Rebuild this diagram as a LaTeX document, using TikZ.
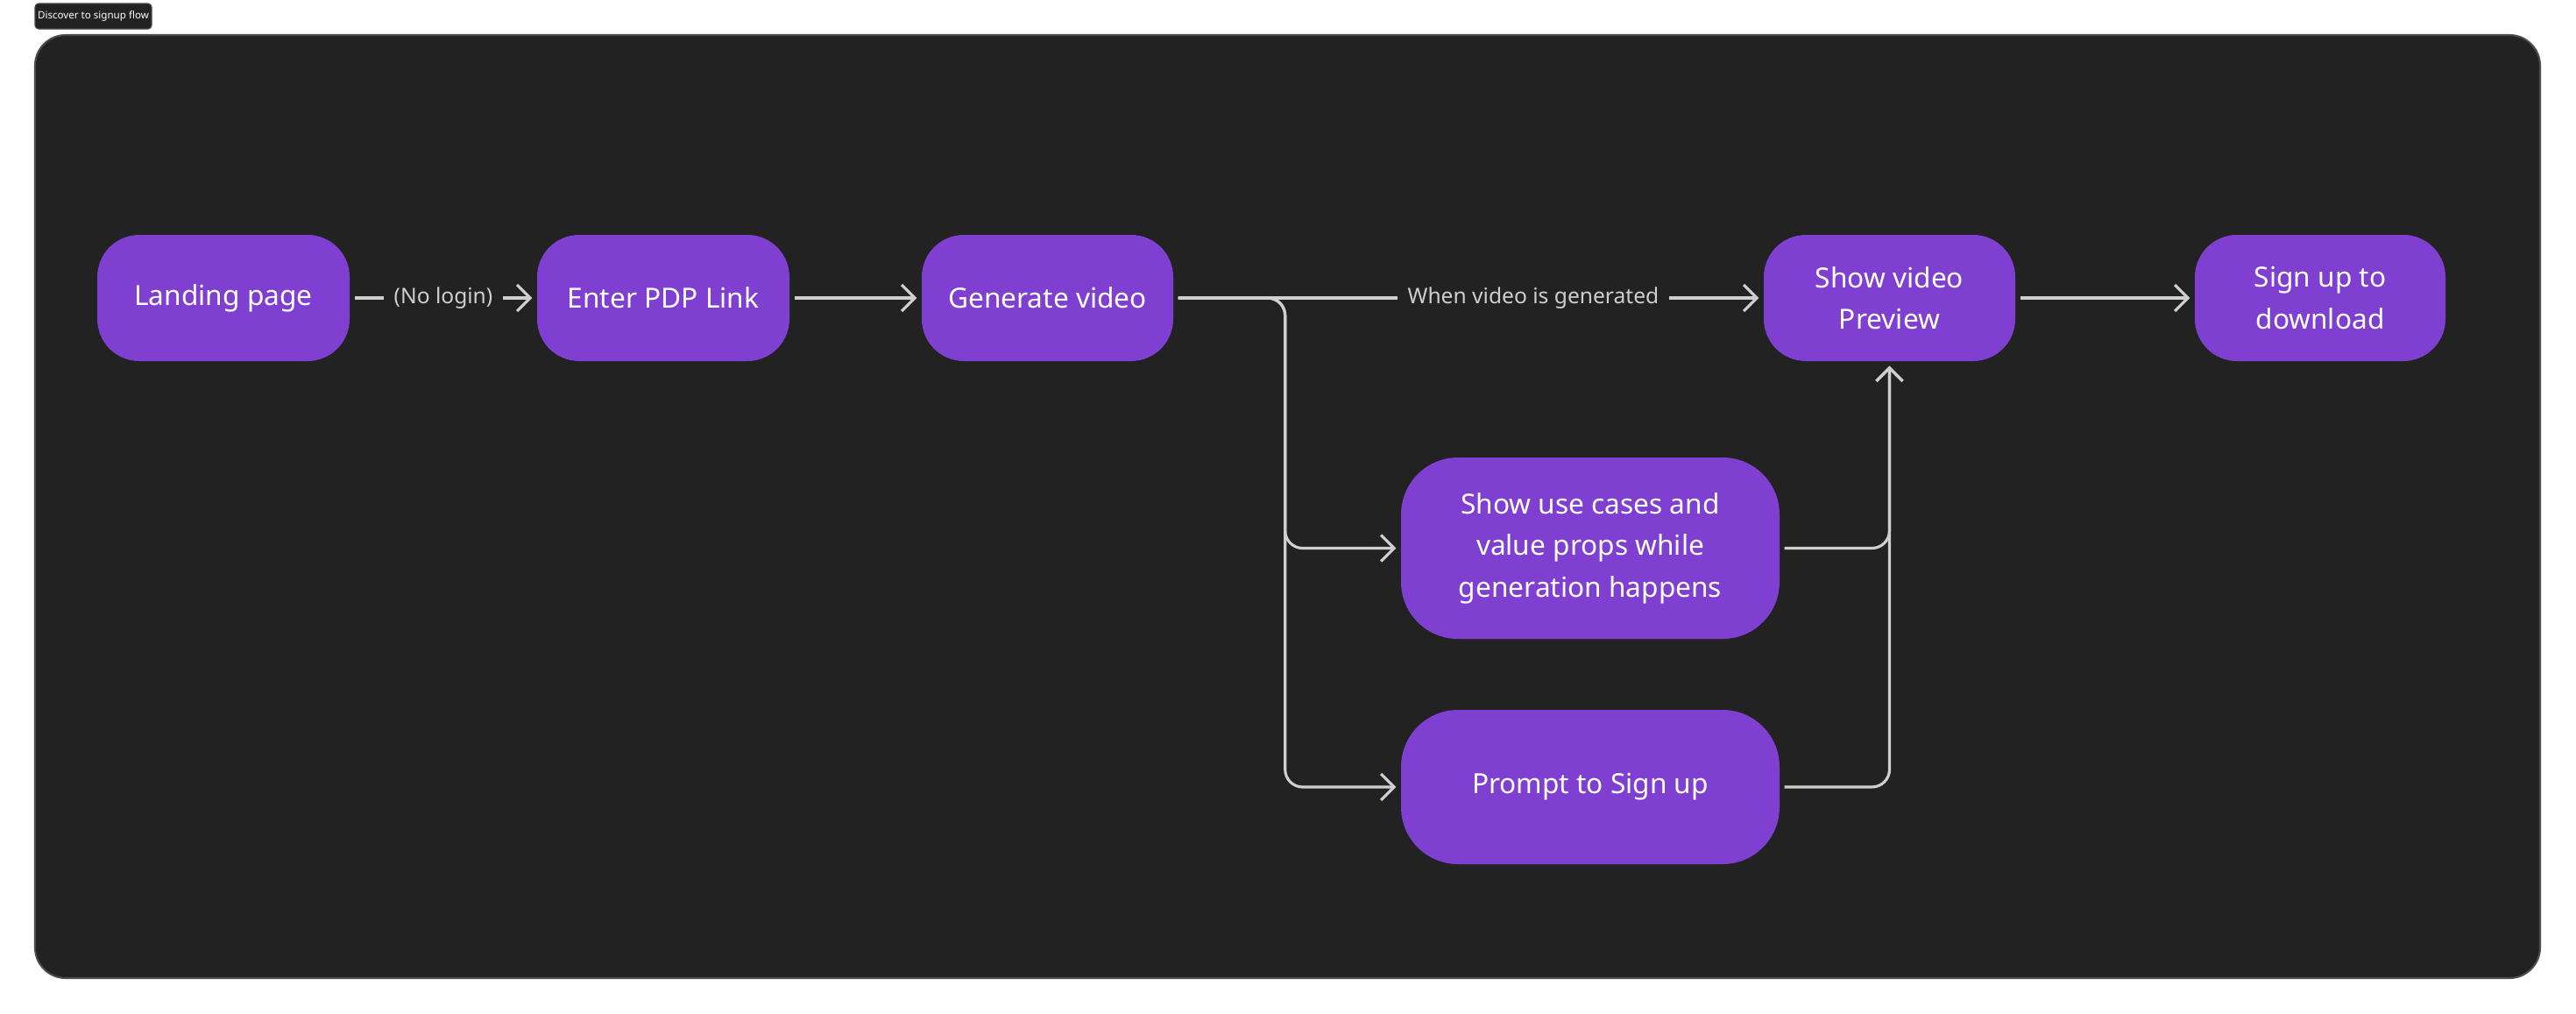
\documentclass[tikz,border=0pt]{standalone}
\usepackage{fontspec}
\setmainfont{Noto Sans}
\usetikzlibrary{arrows.meta}
\definecolor{bgdark}{HTML}{222222}
\definecolor{framegray}{HTML}{4A4A4A}
\definecolor{boxpurple}{HTML}{7F3FD1}
\definecolor{linegray}{HTML}{CFCFCF}
\begin{document}
\begin{tikzpicture}[
  stepbox/.style={fill=boxpurple, text=white, align=center, rounded corners=0.48cm,
    minimum width=2.88cm, minimum height=1.44cm, inner sep=0pt,
    font=\fontsize{9}{13.5}\selectfont},
  widebox/.style={stepbox, minimum width=4.32cm, rounded corners=0.65cm},
  flow/.style={draw=linegray, line width=0.9pt, shorten <=0.05cm, shorten >=0.05cm,
    -{Straight Barb[length=0.15cm, width=0.3cm]}},
  edgelabel/.style={fill=bgdark, text=linegray, inner sep=0.12cm,
    font=\fontsize{7}{8}\selectfont}
]
\useasboundingbox (0,0) rectangle (29.4,-11.57);

\draw [fill=bgdark, draw=framegray, line width=0.6pt, rounded corners=0.35cm]
  (0.40,-0.40) rectangle (28.99,-11.16);
\node [fill=bgdark, draw=framegray, line width=0.3pt, rounded corners=0.04cm, text=white,
  minimum width=1.33cm, minimum height=0.29cm, inner sep=0pt,
  font=\fontsize{3.3}{4}\selectfont] (title) at (1.065,-0.185) {Discover to signup flow};

\node [stepbox] (land) at (2.55,-3.40) {Landing page};
\node [stepbox] (pdp) at (7.57,-3.40) {Enter PDP Link};
\node [stepbox, minimum width=2.87cm] (gen) at (11.955,-3.40) {Generate video};
\node [stepbox, minimum width=2.87cm] (prev) at (21.565,-3.40) {Show video\\Preview};
\node [stepbox, minimum width=2.86cm] (sign) at (26.48,-3.40) {Sign up to\\download};
\node [widebox, minimum height=2.07cm] (uses) at (18.15,-6.255)
  {Show use cases and\\value props while\\generation happens};
\node [widebox, minimum height=1.76cm] (prompt) at (18.15,-8.98) {Prompt to Sign up};

\draw [flow] (land) -- node [edgelabel] {(No login)} (pdp);
\draw [flow] (pdp) -- (gen);
\draw [flow] (gen) -- node [edgelabel, pos=0.61] {When video is generated} (prev);
\draw [flow] (prev) -- (sign);
\draw [flow, rounded corners=0.2cm] (gen.east) -- ++(1.27,0) |- (uses.west);
\draw [flow, rounded corners=0.2cm] (gen.east) -- ++(1.27,0) |- (prompt.west);
\draw [flow, rounded corners=0.2cm] (uses.east) -| (prev.south);
\draw [flow, rounded corners=0.2cm] (prompt.east) -| (prev.south);
\end{tikzpicture}
\end{document}
